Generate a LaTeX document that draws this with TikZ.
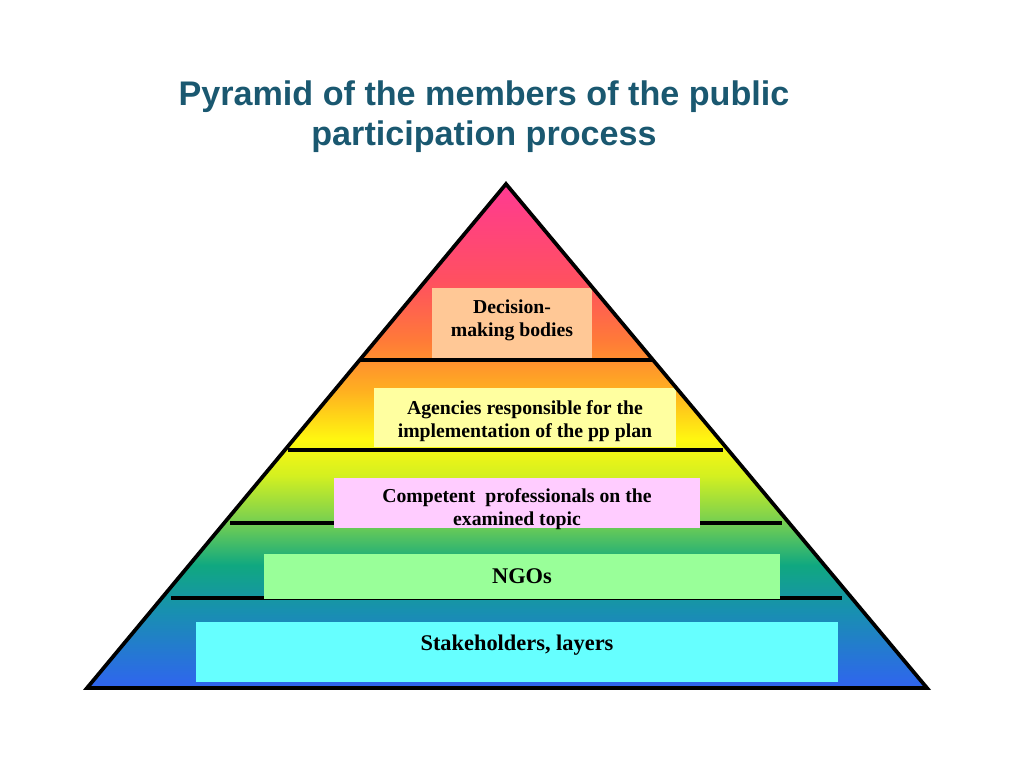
\documentclass[tikz,border=0pt]{standalone}
\usepackage{fontspec}
\setmainfont{Liberation Serif}
\newfontfamily\titlefont{Liberation Sans}
\definecolor{titlecol}{HTML}{1A5870}
\definecolor{c1}{HTML}{FF3A92}
\definecolor{c2}{HTML}{FF5060}
\definecolor{c3}{HTML}{FF7A38}
\definecolor{c4}{HTML}{FFB020}
\definecolor{c5}{HTML}{FFF810}
\definecolor{c6}{HTML}{D4F020}
\definecolor{c7}{HTML}{78D050}
\definecolor{c8}{HTML}{10A880}
\definecolor{c9}{HTML}{1890B0}
\definecolor{c10}{HTML}{3064F0}
\definecolor{boxA}{HTML}{FFC896}
\definecolor{boxB}{HTML}{FFFFA0}
\definecolor{boxC}{HTML}{FFCCFF}
\definecolor{boxD}{HTML}{99FF99}
\definecolor{boxE}{HTML}{66FFFF}
\pgfdeclareverticalshading{pyr}{100bp}{
 color(0bp)=(c10); color(25bp)=(c10); color(32.7bp)=(c9); color(37.2bp)=(c8);
 color(41.6bp)=(c7); color(46.1bp)=(c6); color(49.6bp)=(c5); color(54.5bp)=(c4);
 color(59.5bp)=(c3); color(65.4bp)=(c2); color(75bp)=(c1); color(100bp)=(c1)}
\tikzset{
 layerbox/.style={draw=none, inner sep=0pt, outer sep=0pt, align=center,
   font=\bfseries\fontsize{14.8}{17.5}\selectfont, text=black},
 bigbox/.style={layerbox, font=\bfseries\fontsize{16.8}{20}\selectfont},
 sepline/.style={line width=2.4pt, black},
}
\begin{document}
\begin{tikzpicture}[x=0.75pt,y=-0.75pt]
\useasboundingbox (0,0) rectangle (1024,768);
% title
\node[font=\titlefont\bfseries\fontsize{25.6}{30}\selectfont, text=titlecol, align=center] (title) at (484,117)
 {Pyramid of the members of the public\\participation process};
% pyramid
\coordinate (apex) at (506,184);
\coordinate (bl) at (87,688);
\coordinate (br) at (927,688);
\shade[shading=pyr] (apex) -- (br) -- (bl) -- cycle;
% separator lines
\draw[sepline] (360,360) -- (653,360);
\draw[sepline] (288,450) -- (723,450);
\draw[sepline] (230,523) -- (782,523);
\draw[sepline] (171,598) -- (842,598);
% boxes
\fill[boxA] (432,288) rectangle (592,358);
\node[layerbox] (tA) at (512,320) {Decision-\\making bodies};
\fill[boxB] (374,388) rectangle (676,447);
\node[layerbox] (tB) at (525,421) {Agencies responsible for the\\implementation of the pp plan};
\fill[boxC] (334,478) rectangle (700,528);
\node[layerbox] (tC) at (517,509) {Competent\ \ professionals on the\\examined topic};
\fill[boxD] (264,554) rectangle (780,599);
\node[bigbox] (tD) at (522,576) {NGOs};
\fill[boxE] (196,622) rectangle (838,682);
\node[bigbox] (tE) at (517,645) {Stakeholders, layers};
% outline
\draw[line width=2.8pt, line join=miter] (apex) -- (br) -- (bl) -- cycle;
\end{tikzpicture}
\end{document}
